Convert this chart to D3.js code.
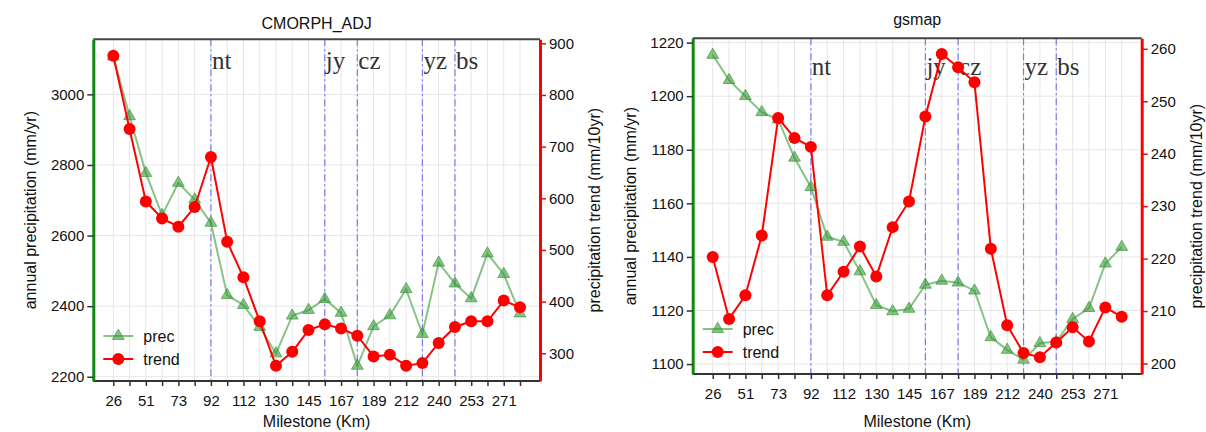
<!DOCTYPE html>
<html>
<head>
<meta charset="utf-8">
<script src="https://cdn.jsdelivr.net/npm/d3@7"></script>
<style>
  body { margin: 0; background: #fff; }
  text { font-family: 'Liberation Sans', Arial, sans-serif; }
</style>
</head>
<body>
<div id="chart"></div>
<script>
// milestone labels sit on every other sample point
const milestones = ['26', '51', '73', '92', '112', '130', '145', '167', '189', '212', '240', '253', '271'];
const stations = ['nt', 'jy', 'cz', 'yz', 'bs'];
const stationIdx = [6, 13, 15, 19, 21];

const cmorphPrec = [3107, 2938, 2777, 2658, 2749, 2702, 2636, 2431, 2403, 2341, 2266, 2373, 2389,
  2420, 2381, 2231, 2343, 2374, 2448, 2321, 2523, 2464, 2422, 2549, 2491, 2379];
const cmorphTrend = [876, 734, 594, 561, 545, 583, 680, 516, 447, 362, 276, 303, 345,
  356, 348, 334, 294, 297, 276, 281, 320, 351, 362, 362, 402, 389];

const gsmapPrec = [1215.4, 1206, 1200, 1194, 1191.3, 1177, 1166, 1147.5, 1145.6, 1134.6, 1122, 1119.7, 1120.6,
  1129.6, 1131.1, 1130.4, 1127.4, 1110, 1105.3, 1101.6, 1107.8, 1108.4, 1116.8, 1120.9, 1137.5, 1143.7];
const gsmapTrend = [220.3, 208.5, 213, 224.4, 246.8, 243, 241.3, 213, 217.5, 222.3, 216.6, 226, 230.9,
  247.1, 259, 256.5, 253.6, 221.9, 207.3, 202, 201.2, 204, 206.9, 204.2, 210.7, 208.9];

const cmorphLeftTicks = [2200, 2400, 2600, 2800, 3000];
const cmorphRightTicks = [300, 400, 500, 600, 700, 800, 900];
const gsmapLeftTicks = [1100, 1120, 1140, 1160, 1180, 1200, 1220];
const gsmapRightTicks = [200, 210, 220, 230, 240, 250, 260];

const svg = d3.select('#chart').append('svg').attr('width', 1206).attr('height', 432);
const sans = "'Liberation Sans', Arial, sans-serif";

function drawPanel(p) {
  let g = svg.append('g');
  let n = p.prec.length;
  let x = d3.scalePoint().domain(d3.range(n)).range([p.left + 20, p.right - 20]);
  let yL = d3.scaleLinear().domain(p.leftDomain).range([p.bottom, p.top]);
  let yR = d3.scaleLinear().domain(p.rightDomain).range([p.bottom, p.top]);

  // grid
  g.append('g').selectAll('line').data(d3.range(n)).join('line')
    .attr('x1', (d) => x(d)).attr('x2', (d) => x(d))
    .attr('y1', p.top).attr('y2', p.bottom)
    .attr('stroke', '#e6e6e6').attr('stroke-width', 1);
  g.append('g').selectAll('line').data(p.leftTicks).join('line')
    .attr('x1', p.left).attr('x2', p.right)
    .attr('y1', (d) => yL(d)).attr('y2', (d) => yL(d))
    .attr('stroke', '#e6e6e6').attr('stroke-width', 1);

  // station markers
  g.append('g').selectAll('line').data(stationIdx).join('line')
    .attr('x1', (d) => x(d)).attr('x2', (d) => x(d))
    .attr('y1', p.top).attr('y2', p.bottom)
    .attr('stroke', '#7a7aee').attr('stroke-width', 1.2)
    .attr('stroke-dasharray', '7,3,2,3');
  g.append('g').selectAll('text').data(stations).join('text')
    .attr('x', (d, i) => x(stationIdx[i]) + 1)
    .attr('y', yR(p.labelAt))
    .style('font-family', "'Liberation Serif', 'Times New Roman', serif")
    .attr('font-size', 25).attr('fill', '#333')
    .text((d) => d);

  // prec
  let line = (yy) => d3.line().x((d, i) => x(i)).y((d) => yy(d));
  g.append('path').datum(p.prec)
    .attr('fill', 'none').attr('stroke', '#3a9a3a').attr('stroke-opacity', 0.6)
    .attr('stroke-width', 2).attr('d', line(yL));
  let tri = d3.symbol().type(d3.symbolTriangle).size(60);
  g.append('g').selectAll('path').data(p.prec).join('path')
    .attr('d', tri)
    .attr('transform', (d, i) => 'translate(' + x(i) + ',' + yL(d) + ')')
    .attr('fill', '#3a9a3a').attr('fill-opacity', 0.6)
    .attr('stroke', '#3a9a3a').attr('stroke-opacity', 0.7);

  // trend
  g.append('path').datum(p.trend)
    .attr('fill', 'none').attr('stroke', '#ff0000')
    .attr('stroke-width', 2).attr('d', line(yR));
  g.append('g').selectAll('circle').data(p.trend).join('circle')
    .attr('cx', (d, i) => x(i)).attr('cy', (d) => yR(d)).attr('r', 6)
    .attr('fill', '#ff0000');

  // legend
  let leg = g.append('g').attr('transform', 'translate(' + p.left + ',' + p.bottom + ')');
  leg.append('line').attr('x1', 10).attr('x2', 40).attr('y1', -45).attr('y2', -45)
    .attr('stroke', '#3a9a3a').attr('stroke-opacity', 0.6).attr('stroke-width', 2);
  leg.append('path').attr('d', tri).attr('transform', 'translate(25,-45)')
    .attr('fill', '#3a9a3a').attr('fill-opacity', 0.6)
    .attr('stroke', '#3a9a3a').attr('stroke-opacity', 0.7);
  leg.append('text').attr('x', 50).attr('y', -39).attr('font-size', 16).attr('fill', '#111').text('prec');
  leg.append('line').attr('x1', 10).attr('x2', 40).attr('y1', -22).attr('y2', -22)
    .attr('stroke', '#ff0000').attr('stroke-width', 2);
  leg.append('circle').attr('cx', 25).attr('cy', -22).attr('r', 6).attr('fill', '#ff0000');
  leg.append('text').attr('x', 50).attr('y', -16).attr('font-size', 16).attr('fill', '#111').text('trend');

  // frame top
  g.append('line').attr('x1', p.left).attr('x2', p.right)
    .attr('y1', p.top).attr('y2', p.top)
    .attr('stroke', '#444').attr('stroke-width', 2);

  // axes
  let xAxis = d3.axisBottom(x).tickSize(5).tickSizeOuter(0)
    .tickFormat((i) => (i % 2 === 0 ? milestones[i / 2] : ''));
  let gx = g.append('g').attr('transform', 'translate(0,' + p.bottom + ')').call(xAxis);
  gx.select('.domain').attr('d', 'M' + p.left + ',0H' + p.right).attr('stroke', '#333').attr('stroke-width', 2);
  gx.selectAll('.tick line').attr('stroke', '#333').attr('stroke-width', 1.5);
  gx.selectAll('.tick text').attr('font-size', 15).attr('fill', '#111').attr('dy', '1.1em')
    .style('font-family', sans);

  let gl = g.append('g').attr('transform', 'translate(' + p.left + ',0)')
    .call(d3.axisLeft(yL).tickValues(p.leftTicks).tickFormat(d3.format('d')).tickSize(6).tickSizeOuter(0));
  gl.select('.domain').attr('stroke', '#118811').attr('stroke-width', 3);
  gl.selectAll('.tick line').attr('stroke', '#333').attr('stroke-width', 1.5);
  gl.selectAll('.tick text').attr('font-size', 15).attr('fill', '#111')
    .style('font-family', sans);

  let gr = g.append('g').attr('transform', 'translate(' + p.right + ',0)')
    .call(d3.axisRight(yR).tickValues(p.rightTicks).tickFormat(d3.format('d')).tickSize(6).tickSizeOuter(0));
  gr.select('.domain').attr('stroke', '#ff0000').attr('stroke-width', 3);
  gr.selectAll('.tick line').attr('stroke', '#ff0000').attr('stroke-width', 1.5);
  gr.selectAll('.tick text').attr('font-size', 15).attr('fill', '#111')
    .style('font-family', sans);

  // titles and labels
  let cx = (p.left + p.right) / 2;
  let cy = (p.top + p.bottom) / 2;
  g.append('text').attr('x', cx).attr('y', p.titleY).attr('text-anchor', 'middle')
    .attr('font-size', 16).attr('fill', '#111').text(p.title);
  g.append('text').attr('x', cx).attr('y', 427).attr('text-anchor', 'middle')
    .attr('font-size', 16).attr('fill', '#111').text('Milestone (Km)');
  g.append('text').attr('transform', 'translate(' + (p.left - 57) + ',' + cy + ') rotate(-90)')
    .attr('text-anchor', 'middle').attr('font-size', 16).attr('fill', '#111')
    .text('annual precipitation (mm/yr)');
  g.append('text').attr('transform', 'translate(' + (p.right + 60) + ',' + cy + ') rotate(-90)')
    .attr('text-anchor', 'middle').attr('font-size', 16).attr('fill', '#111')
    .text('precipitation trend (mm/10yr)');
}

drawPanel({
  title: 'CMORPH_ADJ', titleY: 29,
  left: 93.3, right: 540, top: 39.3, bottom: 381,
  leftDomain: [2188, 3156], rightDomain: [246.4, 907.7],
  leftTicks: cmorphLeftTicks, rightTicks: cmorphRightTicks,
  prec: cmorphPrec, trend: cmorphTrend, labelAt: 850
});

drawPanel({
  title: 'gsmap', titleY: 25,
  left: 692.7, right: 1141.7, top: 38.3, bottom: 374,
  leftDomain: [1096.3, 1221.6], rightDomain: [198, 262],
  leftTicks: gsmapLeftTicks, rightTicks: gsmapRightTicks,
  prec: gsmapPrec, trend: gsmapTrend, labelAt: 255
});
</script>
</body>
</html>
